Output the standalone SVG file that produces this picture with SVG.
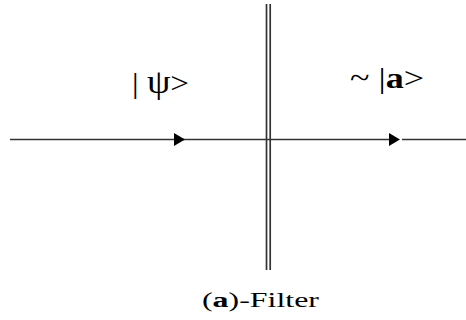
<svg xmlns="http://www.w3.org/2000/svg" width="466" height="320" viewBox="0 0 466 320">
<style>
.ln{stroke:#333;stroke-width:1.7;fill:none}
.ah{fill:#000}
.t{font-family:"Liberation Serif","Times New Roman",serif;fill:#000}
</style>
<rect width="466" height="320" fill="#fff"/>
<g id="connectors">
<line class="ln" x1="10" y1="139.5" x2="392" y2="139.5"/>
<line class="ln" x1="402" y1="139.5" x2="466" y2="139.5"/>
<polygon class="ah" points="174,133 185,139.5 174,146"/>
<polygon class="ah" points="389,133 400,139.5 389,146"/>
</g>
<g id="filter">
<line class="ln" x1="266.5" y1="4" x2="266.5" y2="270"/>
<line class="ln" x1="270.2" y1="4" x2="270.2" y2="270"/>
</g>
<g id="label-psi">
<text class="t" x="132" y="93" font-size="30" textLength="57" lengthAdjust="spacingAndGlyphs">| <tspan font-size="34">ψ</tspan>&gt;</text>
</g>
<g id="label-a">
<text class="t" x="350" y="87.5" font-size="30" textLength="74" lengthAdjust="spacingAndGlyphs">~ |<tspan font-weight="bold">a</tspan>&gt;</text>
</g>
<g id="caption">
<text class="t" transform="translate(202,307) scale(1.45,1)" x="0" y="0" font-size="22">(<tspan font-weight="bold">a</tspan>)-Filter</text>
</g>
</svg>
